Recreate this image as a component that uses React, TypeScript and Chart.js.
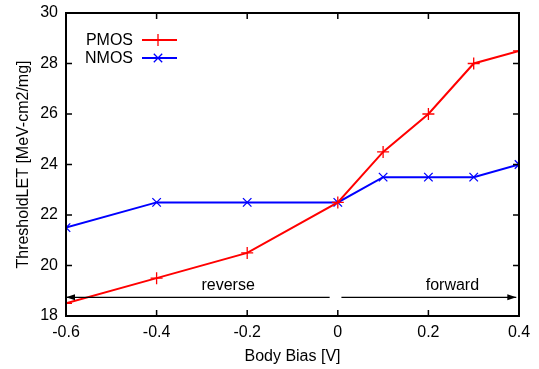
import React, { useEffect, useRef } from "react";
import { Chart, registerables } from "chart.js";

Chart.register(...registerables);

const bodyBias = [-0.6, -0.4, -0.2, 0, 0.1, 0.2, 0.3, 0.4];
const pmos = [18.5, 19.5, 20.5, 22.5, 24.5, 26, 28, 28.5];
const nmos = [21.5, 22.5, 22.5, 22.5, 23.5, 23.5, 23.5, 24];
const xTicks = [-0.6, -0.4, -0.2, 0, 0.2, 0.4];
const yTicks = [18, 20, 22, 24, 26, 28, 30];
const seriesNames = ["PMOS", "NMOS"];
const xTitle = "Body Bias [V]";
const yTitle = "ThresholdLET [MeV-cm2/mg]";
const arrowY = 18.74;
const labelY = 19.2;
const reverseArrow = [-0.6, -0.018];
const forwardArrow = [0.008, 0.394];
const arrowLabels = ["reverse", "forward"];
const arrowLabelX = [-0.242, 0.253];

const FONT = "Liberation Sans, Arial, Helvetica, sans-serif";

const framePlugin = {
  id: "frame",
  afterDatasetsDraw(chart: any) {
    const { ctx, chartArea: a, scales } = chart;
    const xs = scales.x;
    const ys = scales.y;
    ctx.save();
    ctx.strokeStyle = "#000";
    ctx.lineWidth = 2;
    ctx.strokeRect(a.left, a.top, a.right - a.left, a.bottom - a.top);
    ctx.lineWidth = 1.5;
    const tl = 6;
    ctx.beginPath();
    xTicks.forEach((v) => {
      const px = xs.getPixelForValue(v);
      ctx.moveTo(px, a.bottom);
      ctx.lineTo(px, a.bottom - tl);
      ctx.moveTo(px, a.top);
      ctx.lineTo(px, a.top + tl);
    });
    yTicks.forEach((v) => {
      const py = ys.getPixelForValue(v);
      ctx.moveTo(a.left, py);
      ctx.lineTo(a.left + tl, py);
      ctx.moveTo(a.right, py);
      ctx.lineTo(a.right - tl, py);
    });
    ctx.stroke();

    const ay = ys.getPixelForValue(arrowY);
    const drawArrow = (x0: number, x1: number, headLeft: boolean) => {
      const p0 = xs.getPixelForValue(x0);
      const p1 = xs.getPixelForValue(x1);
      ctx.strokeStyle = "#000";
      ctx.fillStyle = "#000";
      ctx.lineWidth = 1.3;
      ctx.beginPath();
      ctx.moveTo(p0, ay);
      ctx.lineTo(p1, ay);
      ctx.stroke();
      const hx = headLeft ? p0 : p1;
      const d = headLeft ? 1 : -1;
      ctx.beginPath();
      ctx.moveTo(hx, ay);
      ctx.lineTo(hx + d * 9, ay - 3);
      ctx.lineTo(hx + d * 9, ay + 3);
      ctx.closePath();
      ctx.fill();
    };
    drawArrow(reverseArrow[0], reverseArrow[1], true);
    drawArrow(forwardArrow[0], forwardArrow[1], false);

    ctx.font = `16px ${FONT}`;
    ctx.fillStyle = "#000";
    ctx.textAlign = "center";
    ctx.textBaseline = "middle";
    const ly = ys.getPixelForValue(labelY);
    arrowLabels.forEach((t, i) => {
      ctx.fillText(t, xs.getPixelForValue(arrowLabelX[i]), ly);
    });

    const colors = ["#ff0000", "#0000ff"];
    const styles = ["cross", "crossRot"];
    seriesNames.forEach((name, i) => {
      const y = 40 + i * 18;
      ctx.textAlign = "right";
      ctx.fillStyle = "#000";
      ctx.fillText(name, 133, y + 1);
      ctx.strokeStyle = colors[i];
      ctx.lineWidth = 2;
      ctx.beginPath();
      ctx.moveTo(142, y);
      ctx.lineTo(177, y);
      ctx.stroke();
      const cx = 158;
      const r = 6;
      ctx.lineWidth = 1.3;
      ctx.beginPath();
      if (styles[i] === "cross") {
        ctx.moveTo(cx - r, y);
        ctx.lineTo(cx + r, y);
        ctx.moveTo(cx, y - r);
        ctx.lineTo(cx, y + r);
      } else {
        const q = r * 0.7;
        ctx.moveTo(cx - q, y - q);
        ctx.lineTo(cx + q, y + q);
        ctx.moveTo(cx - q, y + q);
        ctx.lineTo(cx + q, y - q);
      }
      ctx.stroke();
    });

    ctx.textAlign = "center";
    ctx.fillText(xTitle, (a.left + a.right) / 2, 357);
    ctx.translate(24, (a.top + a.bottom) / 2);
    ctx.rotate(-Math.PI / 2);
    ctx.fillText(yTitle, 0, 0);
    ctx.restore();
  },
};

export default function App() {
  const ref = useRef<HTMLCanvasElement | null>(null);
  useEffect(() => {
    document.body.style.margin = "0";
    const canvas = ref.current!;
    const chart = new Chart(canvas, {
      type: "line",
      data: {
        datasets: [
          {
            label: seriesNames[0],
            data: bodyBias.map((x, i) => ({ x, y: pmos[i] })),
            borderColor: "#ff0000",
            backgroundColor: "#ff0000",
            borderWidth: 2,
            pointStyle: "cross",
            pointRadius: 6,
            pointBorderWidth: 1.3,
            tension: 0,
          },
          {
            label: seriesNames[1],
            data: bodyBias.map((x, i) => ({ x, y: nmos[i] })),
            borderColor: "#0000ff",
            backgroundColor: "#0000ff",
            borderWidth: 2,
            pointStyle: "crossRot",
            pointRadius: 6,
            pointBorderWidth: 1.3,
            tension: 0,
          },
        ],
      },
      options: {
        animation: false,
        responsive: false,
        layout: { padding: { top: 13, right: 20, left: 0, bottom: 0 } },
        plugins: { legend: { display: false }, tooltip: { enabled: false } },
        scales: {
          x: {
            type: "linear",
            min: -0.6,
            max: 0.4,
            afterBuildTicks: (s: any) => {
              s.ticks = xTicks.map((v) => ({ value: v }));
            },
            afterFit: (s: any) => {
              s.height = 53;
              s.paddingLeft = 0;
              s.paddingRight = 0;
            },
            grid: { display: false, drawTicks: false },
            border: { display: false },
            ticks: {
              padding: 7,
              color: "#000",
              font: { family: FONT, size: 16 },
              callback: (v: any) => String(Math.round(Number(v) * 10) / 10),
            },
          },
          y: {
            min: 18,
            max: 30,
            afterBuildTicks: (s: any) => {
              s.ticks = yTicks.map((v) => ({ value: v }));
            },
            afterFit: (s: any) => {
              s.width = 66;
              s.paddingTop = 0;
              s.paddingBottom = 0;
            },
            grid: { display: false, drawTicks: false },
            border: { display: false },
            ticks: {
              padding: 8,
              color: "#000",
              font: { family: FONT, size: 16 },
            },
          },
        },
      },
      plugins: [framePlugin],
    } as any);
    return () => chart.destroy();
  }, []);
  return (
    <div style={{ width: 539, height: 369 }}>
      <canvas ref={ref} width={539} height={369} style={{ display: "block" }} />
    </div>
  );
}
